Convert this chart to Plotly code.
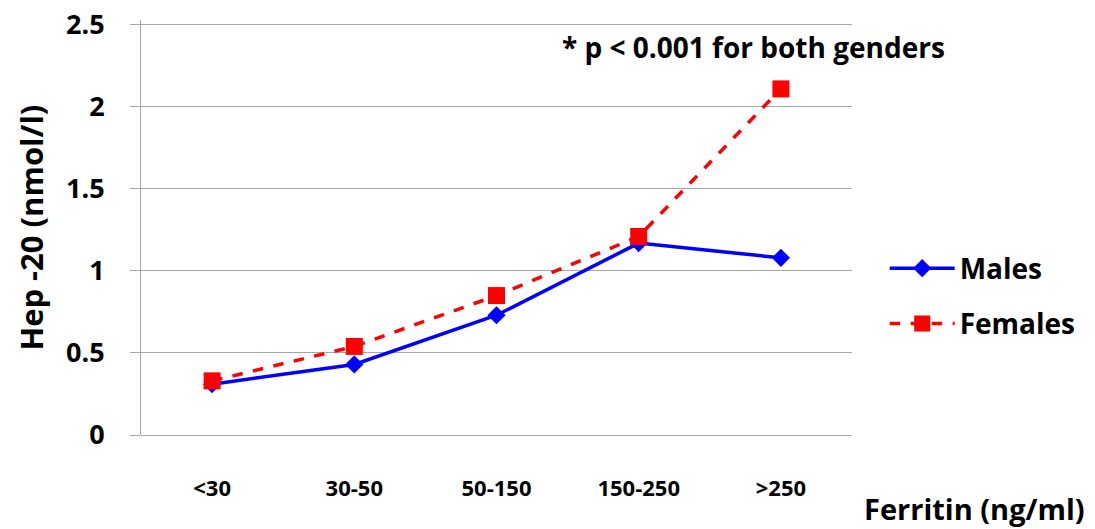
import plotly.graph_objects as go

categories = ["<30", "30-50", "50-150", "150-250", ">250"]
males = [0.31, 0.43, 0.73, 1.17, 1.08]
females = [0.33, 0.54, 0.85, 1.21, 2.11]
y_ticks = [0, 0.5, 1, 1.5, 2, 2.5]
y_tick_text = ["0", "0.5", "1", "1.5", "2", "2.5"]

FONT = "Open Sans"

fig = go.Figure()
fig.add_trace(go.Scatter(
    x=categories, y=males, name="Males", mode="lines+markers",
    legendgroup="m",
    line=dict(color="#0000FF", width=3.5),
    marker=dict(symbol="diamond", size=14, color="#0000FF"),
))
fig.add_trace(go.Scatter(
    x=categories, y=females, name="Females", mode="lines+markers",
    legendgroup="f",
    line=dict(color="#FF0000", width=3.5, dash="dash"),
    marker=dict(symbol="square", size=17, color="#FF0000"),
))

fig.update_layout(
    width=1087, height=521,
    margin=dict(l=133, r=243, t=12, b=94, autoexpand=False),
    paper_bgcolor="white", plot_bgcolor="white",
    font=dict(family=FONT, size=22, color="black"),
    showlegend=True,
    legend=dict(
        x=1.046, y=0.335, xanchor="left", yanchor="middle",
        font=dict(family=FONT, size=28, color="black", weight="bold"),
        tracegroupgap=16, itemwidth=65,
        bgcolor="rgba(0,0,0,0)",
    ),
    xaxis=dict(
        type="category", range=[-0.5, 4.5],
        showgrid=False, showline=False, zeroline=False,
        ticks="", ticklabelstandoff=38,
        tickfont=dict(family=FONT, size=22, color="black", weight="bold"),
    ),
    yaxis=dict(
        range=[0, 2.53], tickvals=y_ticks, ticktext=y_tick_text,
        showgrid=True, gridcolor="#A6A6A6", gridwidth=1,
        showline=True, linecolor="#A6A6A6", linewidth=1,
        zeroline=True, zerolinecolor="#A6A6A6", zerolinewidth=1,
        ticks="outside", ticklen=10, tickcolor="#A6A6A6",
        ticklabelstandoff=20, ticklabeloverflow="allow",
        tickfont=dict(family=FONT, size=27, color="black", weight="bold"),
    ),
)

fig.add_annotation(
    text="Hep -20 (nmol/l)", xref="paper", yref="paper", textangle=-90,
    x=-0.156, y=0.5, xanchor="center", yanchor="middle", showarrow=False,
    font=dict(family=FONT, size=31, color="black", weight="bold"),
)
fig.add_annotation(
    text="* p < 0.001 for both genders", xref="paper", yref="paper",
    x=0.589, y=0.935, xanchor="left", yanchor="middle", showarrow=False,
    font=dict(family=FONT, size=28, color="black", weight="bold"),
)
fig.add_annotation(
    text="Ferritin (ng/ml)", xref="paper", yref="paper",
    x=1.33, y=-0.176, xanchor="right", yanchor="middle", showarrow=False,
    font=dict(family=FONT, size=29, color="black", weight="bold"),
)

fig.write_html("out.html")
